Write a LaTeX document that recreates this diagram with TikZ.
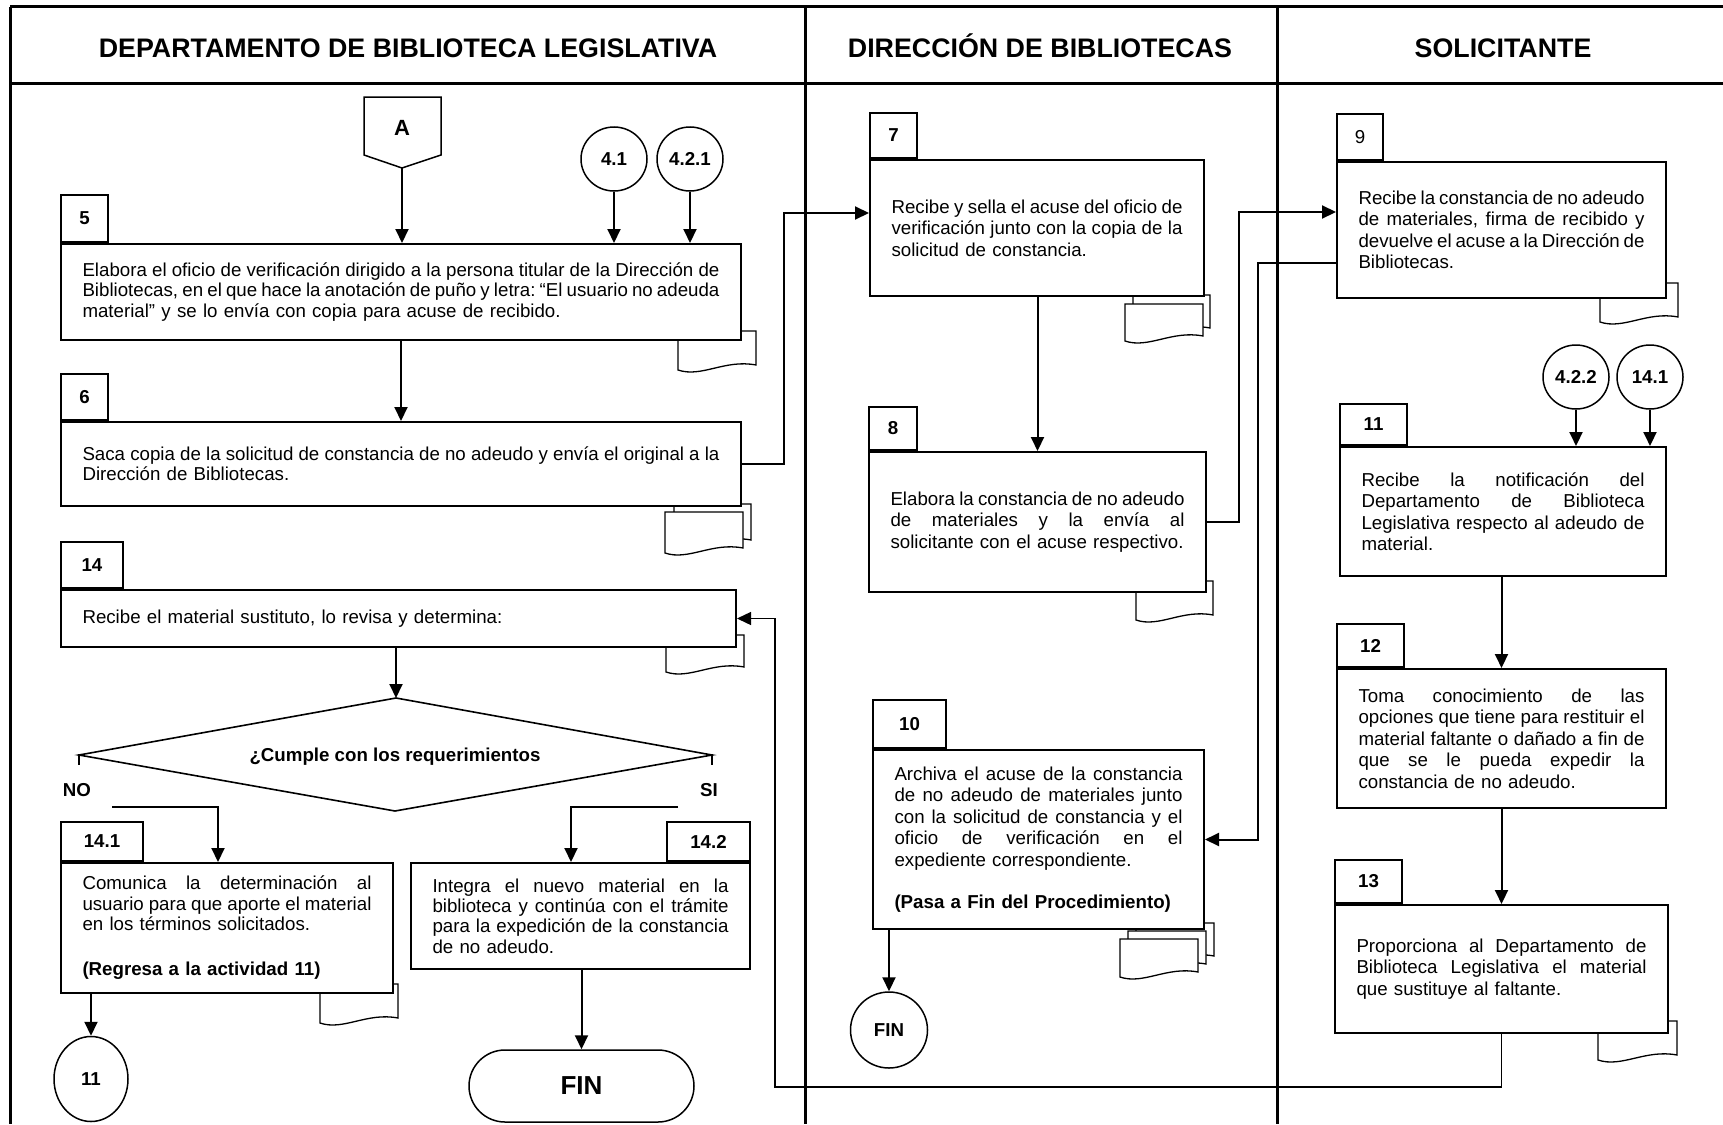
\documentclass[tikz,border=0pt]{standalone}
\usepackage{fontspec}
\setmainfont{Liberation Sans}
\usetikzlibrary{arrows.meta,shapes.geometric}
\newcommand\jline[1]{\hbox to \hsize{\spaceskip=0.278em plus 1fil minus 0.12em\xspaceskip=\spaceskip\relax #1}}
\newcommand\docsheet[4]{\draw[docline] (#1,#2) -- (#3,#2) -- (#3,{#4-5}) .. controls ({#1+0.6*(#3-#1)},{#4-11}) and ({#1+0.3*(#3-#1)},{#4+8}) .. (#1,#4) -- cycle;}
\begin{document}
\begin{tikzpicture}[x=1pt,y=-1pt,
  frame/.style={line width=3pt},
  act/.style={draw, line width=2pt, fill=white, inner xsep=21.5pt, inner ysep=0pt, font=\fontsize{18.7}{21.5}\selectfont},
  actl/.style={act, font=\fontsize{18.7}{20.3}\selectfont},
  tab/.style={draw, line width=2pt, fill=white, inner sep=0pt, font=\fontsize{18.7}{20}\selectfont\bfseries},
  conn/.style={line width=2pt, -{Triangle[length=14pt,width=13pt]}},
  retconn/.style={line width=1.4pt, -{Triangle[length=14pt,width=13pt]}},
  docline/.style={draw, line width=1.3pt, fill=white},
  ref/.style={draw, ellipse, line width=1.5pt, inner sep=0pt, font=\fontsize{18.7}{20}\selectfont\bfseries},
  hdr/.style={font=\fontsize{26.8}{28}\selectfont\bfseries, anchor=base},
  lbl/.style={font=\fontsize{18.7}{20}\selectfont\bfseries},
]
\useasboundingbox (0,0) rectangle (1723,1124);

% ---------- frame ----------
\draw[frame] (10,7) -- (1723,7);
\draw[frame] (10,7) -- (10,1124);
\draw[frame] (10,83) -- (1723,83);
\draw[frame] (805,7) -- (805,1124);
\draw[frame] (1277,7) -- (1277,1124);
\node[hdr] (h1) at (408,57) {DEPARTAMENTO DE BIBLIOTECA LEGISLATIVA};
\node[hdr] (h2) at (1040,57) {DIRECCIÓN DE BIBLIOTECAS};
\node[hdr] (h3) at (1503,57) {SOLICITANTE};

% ---------- documents (behind boxes) ----------
\docsheet{678}{331}{756}{370}
\docsheet{674}{504}{751}{545}
\docsheet{665}{512}{743}{553}
\docsheet{666}{635}{744}{672}
\docsheet{320}{984}{398}{1023}
\docsheet{1133}{295}{1210}{333}
\docsheet{1125}{304}{1203}{341}
\docsheet{1136}{581}{1213}{620}
\docsheet{1136}{923}{1214}{961}
\docsheet{1128}{931}{1206}{969}
\docsheet{1120}{939}{1198}{977}
\docsheet{1600}{283}{1678}{322}
\docsheet{1598}{1021}{1677}{1060}

% ---------- left lane ----------
\draw[line width=1.5pt, fill=white] (364,97) -- (441,97) -- (441,155) -- (402,168) -- (364,155) -- cycle;
\node[font=\fontsize{22}{24}\selectfont\bfseries] (A) at (402,128) {A};
\coordinate (Atip) at (402,168);
\node[ref, minimum width=66pt, minimum height=64pt] (c41) at (614,159) {4.1};
\node[ref, minimum width=66pt, minimum height=64pt] (c421) at (690,159) {4.2.1};

\node[actl, minimum width=680pt, minimum height=96pt, text width=637pt] (b5) at (401,292)
 {\jline{Elabora el oficio de verificación dirigido a la persona titular de la Dirección de}
  \jline{Bibliotecas, en el que hace la anotación de puño y letra: “El usuario no adeuda}
  material” y se lo envía con copia para acuse de recibido.};
\node[tab, minimum width=47pt, minimum height=47pt, anchor=south west] (t5) at (b5.north west) {5};

\node[actl, minimum width=680pt, minimum height=84pt, text width=637pt] (b6) at (401,464)
 {\jline{Saca copia de la solicitud de constancia de no adeudo y envía el original a la}
  Dirección de Bibliotecas.};
\node[tab, minimum width=47pt, minimum height=46pt, anchor=south west] (t6) at (b6.north west) {6};

\node[actl, minimum width=675pt, minimum height=57pt, text width=632pt] (b14) at (398.5,618.5)
 {Recibe el material sustituto, lo revisa y determina:};
\node[tab, minimum width=62pt, minimum height=46pt, anchor=south west] (t14) at (b14.north west) {14};

\coordinate (dT) at (396,698);
\coordinate (dL) at (79,755);
\coordinate (dR) at (712,755);
\coordinate (dB) at (395,811);
\draw[line width=1.6pt] (dT) -- (dR) -- (dB) -- (dL) -- cycle;
\draw[line width=1.8pt] (79,754) -- (79,765);
\draw[line width=1.8pt] (712,754) -- (712,765);
\node[lbl] (dq) at (395,757) {¿Cumple con los requerimientos};
\node[lbl] (no) at (77,790) {NO};
\node[lbl] (si) at (709,790) {SI};
\coordinate (no1) at (112,807);
\coordinate (no2) at (218,807);
\coordinate (si1) at (678,807);
\coordinate (si2) at (571,807);

\node[actl, minimum width=332pt, minimum height=130pt, text width=289pt] (b141) at (227,928)
 {\jline{Comunica la determinación al}
  \jline{usuario para que aporte el material}
  en los términos solicitados.\\[25pt]
  \textbf{(Regresa a la actividad 11)}};
\node[tab, minimum width=82pt, minimum height=39pt, anchor=south west] (t141) at (b141.north west) {14.1};

\node[actl, minimum width=339pt, minimum height=106pt, text width=296pt] (b142) at (580.5,916)
 {\jline{Integra el nuevo material en la}
  \jline{biblioteca y continúa con el trámite}
  \jline{para la expedición de la constancia}
  de no adeudo.};
\node[tab, minimum width=83pt, minimum height=39pt, anchor=south east] (t142) at (b142.north east) {14.2};

\node[ref, minimum width=74pt, minimum height=85pt] (c11) at (91,1079) {11};
\node[draw, line width=1.5pt, rounded corners=36pt, minimum width=225pt, minimum height=72pt,
      font=\fontsize{26}{28}\selectfont\bfseries] (fin) at (581.5,1086) {FIN};

% ---------- middle lane ----------
\node[act, minimum width=334pt, minimum height=136pt, text width=291pt] (b7) at (1037,228)
 {\jline{Recibe y sella el acuse del oficio de}
  \jline{verificación junto con la copia de la}
  solicitud de constancia.};
\node[tab, minimum width=47pt, minimum height=45pt, anchor=south west] (t7) at (b7.north west) {7};

\node[act, minimum width=337pt, minimum height=140pt, text width=294pt] (b8) at (1037.5,522)
 {\jline{Elabora la constancia de no adeudo}
  \jline{de materiales y la envía al}
  solicitante con el acuse respectivo.};
\node[tab, minimum width=48pt, minimum height=43pt, anchor=south west] (t8) at (b8.north west) {8};

\node[act, minimum width=331pt, minimum height=179pt, text width=288pt] (b10) at (1038.5,839.5)
 {\jline{Archiva el acuse de la constancia}
  \jline{de no adeudo de materiales junto}
  \jline{con la solicitud de constancia y el}
  \jline{oficio de verificación en el}
  expediente correspondiente.\\[21pt]
  \textbf{(Pasa a Fin del Procedimiento)}};
\node[tab, minimum width=73pt, minimum height=48pt, anchor=south west] (t10) at (b10.north west) {10};

\node[ref, minimum width=77pt, minimum height=76pt] (fin2) at (889,1030) {FIN};

% ---------- right lane ----------
\node[act, minimum width=329pt, minimum height=136pt, text width=286pt] (b9) at (1501.5,230)
 {\jline{Recibe la constancia de no adeudo}
  \jline{de materiales, firma de recibido y}
  \jline{devuelve el acuse a la Dirección de}
  Bibliotecas.};
\node[tab, minimum width=46pt, minimum height=46pt, anchor=south west, font=\fontsize{18.7}{20}\selectfont] (t9) at (b9.north west) {9};

\node[ref, minimum width=66pt, minimum height=64pt] (c422) at (1576,377) {4.2.2};
\node[ref, minimum width=66pt, minimum height=64pt] (c141) at (1650,377) {14.1};

\node[act, minimum width=326pt, minimum height=129pt, text width=283pt] (b11) at (1503,511.5)
 {\jline{Recibe la notificación del}
  \jline{Departamento de Biblioteca}
  \jline{Legislativa respecto al adeudo de}
  material.};
\node[tab, minimum width=67pt, minimum height=41pt, anchor=south west] (t11) at (b11.north west) {11};

\node[act, minimum width=329pt, minimum height=139pt, text width=286pt] (b12) at (1501.5,738.5)
 {\jline{Toma conocimiento de las}
  \jline{opciones que tiene para restituir el}
  \jline{material faltante o dañado a fin de}
  \jline{que se le pueda expedir la}
  constancia de no adeudo.};
\node[tab, minimum width=67pt, minimum height=43pt, anchor=south west] (t12) at (b12.north west) {12};

\node[act, minimum width=333pt, minimum height=128pt, text width=290pt] (b13) at (1501.5,969)
 {\jline{Proporciona al Departamento de}
  \jline{Biblioteca Legislativa el material}
  que sustituye al faltante.};
\node[tab, minimum width=67pt, minimum height=43pt, anchor=south west] (t13) at (b13.north west) {13};

% ---------- connectors ----------
\draw[conn] (Atip) -- (Atip |- b5.north);
\draw[conn] (c41.south) -- (c41 |- b5.north);
\draw[conn] (c421.south) -- (c421 |- b5.north);
\draw[conn] (b6.north |- b5.south) -- (b6.north);
\coordinate (j67) at (784,213);
\draw[conn] (b6.east) -| (j67) -- (b7.west |- j67);
\draw[conn] (b8.north |- b7.south) -- (b8.north);
\coordinate (j89) at (1239,212);
\draw[conn] (b8.east) -| (j89) -- (b9.west |- j89);
\coordinate (j910) at (1258,263);
\draw[conn] (b9.west |- j910) -- (j910) |- (b10.east);
\draw[conn] (fin2 |- b10.south) -- (fin2.north);
\draw[conn] (c422.south) -- (c422 |- b11.north);
\draw[conn] (c141.south) -- (c141 |- b11.north);
\draw[conn] (b12.north |- b11.south) -- (b12.north);
\draw[conn] (b13.north |- b12.south) -- (b13.north);
\coordinate (jret) at (775,1087);
\draw[retconn] (b13.south) |- (jret) |- (b14.east);
\draw[conn] (dT |- b14.south) -- (dT);
\draw[conn] (no1) -- (no2) -- (no2 |- b141.north);
\draw[conn] (si1) -- (si2) -- (si2 |- b142.north);
\draw[conn] (c11 |- b141.south) -- (c11.north);
\draw[conn] (fin |- b142.south) -- (fin.north);
\end{tikzpicture}
\end{document}
